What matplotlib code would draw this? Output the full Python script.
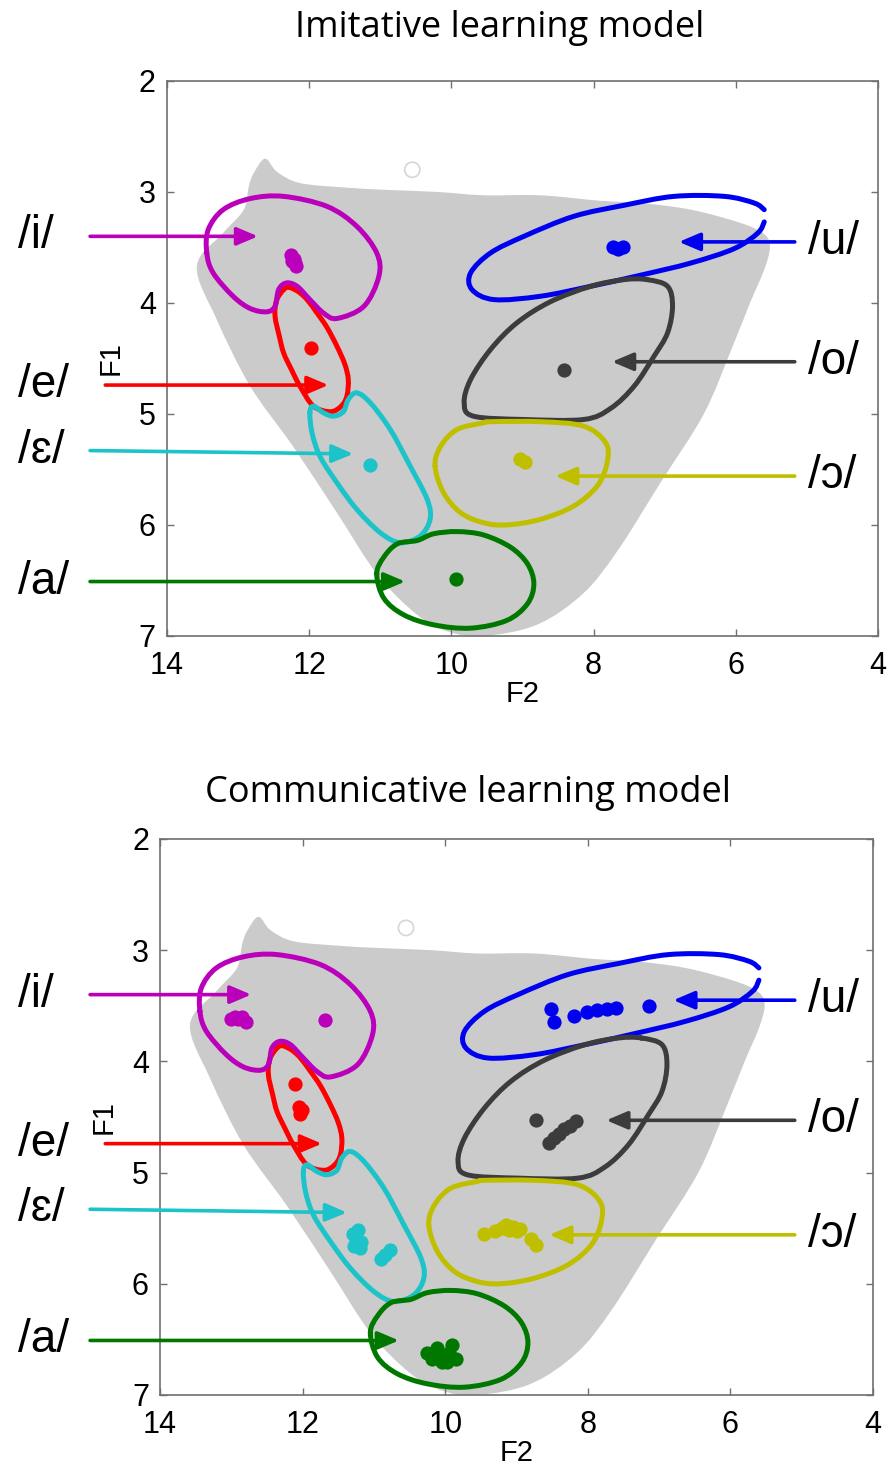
import numpy as np
import matplotlib.pyplot as plt
from matplotlib.path import Path
from matplotlib.patches import PathPatch
from matplotlib.transforms import blended_transform_factory

plt.rcParams['font.family'] = ['Liberation Sans', 'DejaVu Sans']

# 母音空間（灰色の領域）の輪郭 F2, F1
space_f2 = [12.62, 12.45, 12.13, 11.50, 10.96, 10.20, 9.55, 8.75, 7.90, 7.34, 6.63, 5.93, 5.60,
            5.52, 5.60, 5.80, 6.05, 6.45, 7.06, 7.66, 8.15, 8.80, 9.55, 10.05, 10.50, 11.05,
            11.61, 12.23, 12.83, 13.30, 13.58, 13.21, 12.92, 12.85, 12.78]
space_f1 = [2.70, 2.82, 2.92, 2.96, 2.98, 3.00, 3.03, 3.03, 3.08, 3.10, 3.16, 3.28, 3.38,
            3.50, 3.70, 4.00, 4.40, 5.00, 5.62, 6.23, 6.62, 6.90, 7.00, 6.96, 6.80, 6.44,
            5.89, 5.29, 4.75, 4.15, 3.67, 3.37, 3.16, 2.95, 2.83]
outlier_f2 = [10.55]
outlier_f1 = [2.80]

# 各母音のカテゴリ境界
cont_i = ([13.44, 13.42, 13.21, 12.83, 12.36, 11.75, 11.33, 11.05, 11.02, 11.23, 11.61, 11.80,
           11.99, 12.17, 12.32, 12.43, 12.48, 12.60, 12.83, 13.07, 13.35],
          [3.55, 3.34, 3.16, 3.06, 3.04, 3.13, 3.31, 3.55, 3.76, 4.03, 4.14, 4.09,
           3.97, 3.85, 3.82, 3.88, 4.03, 4.08, 4.05, 3.94, 3.73])
cont_e = ([12.36, 12.46, 12.48, 12.42, 12.36, 12.25, 12.13, 11.94, 11.70, 11.55, 11.47, 11.45,
           11.50, 11.61, 11.75, 11.89, 12.03, 12.15, 12.28],
          [3.88, 3.98, 4.12, 4.30, 4.45, 4.60, 4.75, 4.93, 4.98, 4.93, 4.84, 4.69,
           4.55, 4.39, 4.22, 4.09, 3.97, 3.90, 3.86])
cont_eps = ([11.99, 11.94, 11.80, 11.66, 11.52, 11.45, 11.33, 11.14, 10.86, 10.58, 10.34, 10.30,
             10.44, 10.72, 11.00, 11.33, 11.61, 11.85, 11.96],
            [4.99, 4.93, 4.99, 5.02, 4.98, 4.87, 4.81, 4.90, 5.14, 5.47, 5.77, 5.95,
             6.10, 6.16, 6.07, 5.86, 5.62, 5.38, 5.17])
cont_a = ([11.05, 10.95, 10.76, 10.48, 10.25, 9.92, 9.55, 9.17, 8.93, 8.84, 8.93, 9.22,
           9.73, 10.25, 10.67, 10.95],
          [6.44, 6.29, 6.17, 6.14, 6.08, 6.06, 6.09, 6.20, 6.35, 6.53, 6.71, 6.86,
           6.93, 6.90, 6.81, 6.66])
cont_u = ([5.60, 5.74, 6.16, 6.87, 7.57, 8.28, 8.98, 9.45, 9.73, 9.71, 9.40, 8.75,
           8.04, 7.34, 6.63, 6.02, 5.69, 5.60],
          [3.16, 3.10, 3.04, 3.04, 3.12, 3.22, 3.40, 3.55, 3.73, 3.88, 3.97, 3.94,
           3.85, 3.75, 3.64, 3.51, 3.37, 3.27])
cont_o = ([7.25, 6.96, 6.89, 6.96, 7.15, 7.43, 7.76, 8.14, 8.98, 9.69, 9.82, 9.73,
           9.45, 9.08, 8.61, 8.04, 7.57],
          [3.79, 3.85, 4.03, 4.27, 4.48, 4.75, 4.95, 5.05, 5.05, 5.02, 4.90, 4.69,
           4.42, 4.18, 3.99, 3.85, 3.79])
cont_oo = ([10.23, 10.15, 9.92, 9.55, 9.45, 8.75, 8.14, 7.83, 7.81, 7.95, 8.28, 8.75,
            9.22, 9.55, 9.87, 10.11],
           [5.47, 5.29, 5.14, 5.08, 5.07, 5.07, 5.11, 5.26, 5.44, 5.65, 5.83, 5.95,
            6.00, 5.98, 5.89, 5.71])

# 模倣学習モデルの結果
imit_i = ([12.25, 12.22, 12.20, 12.18, 12.24], [3.57, 3.60, 3.64, 3.67, 3.62])
imit_e = ([11.97], [4.41])
imit_eps = ([11.14], [5.46])
imit_a = ([9.94], [6.49])
imit_u = ([7.73, 7.65, 7.58], [3.50, 3.51, 3.50])
imit_o = ([8.42], [4.60])
imit_oo = ([9.04, 8.96], [5.41, 5.43])

# コミュニケーション学習モデルの結果
comm_i = ([12.95, 12.85, 12.80, 12.90, 13.00, 11.68], [3.60, 3.60, 3.65, 3.62, 3.62, 3.63])
comm_e = ([12.10, 12.05, 12.01, 12.04], [4.20, 4.41, 4.44, 4.47])
comm_eps = ([11.30, 11.22, 11.25, 11.18, 11.28, 11.20, 10.90, 10.78, 10.85],
            [5.55, 5.52, 5.60, 5.62, 5.66, 5.68, 5.78, 5.70, 5.74])
comm_a = ([10.25, 10.18, 10.10, 10.05, 9.95, 9.90, 9.98, 9.85, 10.12],
          [6.62, 6.68, 6.65, 6.70, 6.62, 6.55, 6.70, 6.68, 6.58])
comm_u = ([8.52, 8.48, 8.19, 8.01, 7.87, 7.73, 7.61, 7.14],
          [3.53, 3.65, 3.59, 3.56, 3.54, 3.53, 3.52, 3.50])
comm_o = ([8.73, 8.55, 8.47, 8.40, 8.33, 8.25, 8.17],
          [4.53, 4.73, 4.69, 4.65, 4.61, 4.58, 4.54])
comm_oo = ([9.45, 9.30, 9.20, 9.15, 9.10, 9.05, 9.00, 8.95, 8.80, 8.72],
           [5.55, 5.53, 5.50, 5.47, 5.52, 5.49, 5.53, 5.51, 5.60, 5.65])

labels = ['/i/', '/e/', '/ɛ/', '/a/', '/u/', '/o/', '/ɔ/']
colors = ['#bb00bb', '#ff0000', '#1cc3c8', '#007800', '#0000f0', '#3c3c3c', '#bfbf00']
contours = [cont_e, cont_i, cont_eps, cont_a, cont_u, cont_o, cont_oo]
cont_colors = [colors[1], colors[0], colors[2], colors[3], colors[4], colors[5], colors[6]]
closed = [True, True, True, True, False, True, True]

# 矢印: 先端(F2, F1), 尾の位置(図の横位置)
arrow_tip_f2 = [12.72, 11.73, 11.38, 10.65, 6.80, 7.74, 8.54]
arrow_tip_f1 = [3.40, 4.74, 5.36, 6.51, 3.45, 4.53, 5.56]
arrow_tail_f1 = [3.40, 4.74, 5.33, 6.51, 3.45, 4.53, 5.56]
arrow_tail_x = [0.101, 0.118, 0.101, 0.101, 0.891, 0.891, 0.891]
label_x = [0.020, 0.020, 0.020, 0.020, 0.906, 0.906, 0.906]


def smooth_path(xs, ys, is_closed):
    # 点を通る滑らかな曲線（ベジェ）にする
    p = np.column_stack([xs, ys])
    n = len(p)
    verts = [p[0]]
    codes = [Path.MOVETO]
    nseg = n if is_closed else n - 1
    for k in range(nseg):
        p1 = p[k]
        p2 = p[(k + 1) % n]
        p0 = p[(k - 1) % n] if (is_closed or k > 0) else p1
        p3 = p[(k + 2) % n] if (is_closed or k + 2 < n) else p2
        verts += [p1 + (p2 - p0) / 6, p2 - (p3 - p1) / 6, p2]
        codes += [Path.CURVE4] * 3
    return Path(verts, codes)


fig = plt.figure(figsize=(8.92, 14.69), dpi=100)
ax1 = fig.add_axes([0.1872, 0.5671, 0.7971, 0.3778])
ax2 = fig.add_axes([0.1794, 0.0504, 0.7993, 0.3785])

panels = [(ax1, [imit_i, imit_e, imit_eps, imit_a, imit_u, imit_o, imit_oo]),
          (ax2, [comm_i, comm_e, comm_eps, comm_a, comm_u, comm_o, comm_oo])]

for ax, dots in panels:
    ax.add_patch(PathPatch(smooth_path(space_f2, space_f1, True), facecolor='#cbcbcb',
                           edgecolor='none', zorder=1))
    ax.scatter(outlier_f2, outlier_f1, s=120, facecolors='none', edgecolors='#d6d6d6', lw=1.2, zorder=1)

    for c, col, cl in zip(contours, cont_colors, closed):
        ax.add_patch(PathPatch(smooth_path(c[0], c[1], cl), fill=False, edgecolor=col, lw=3.6,
                               capstyle='round', joinstyle='round', zorder=2))

    for d, col in zip(dots, colors):
        ax.scatter(d[0], d[1], s=105, color=col, lw=0, zorder=3)

    tr = blended_transform_factory(fig.transFigure, ax.transData)
    for k in range(len(labels)):
        ax.annotate('', xy=(arrow_tip_f2[k], arrow_tip_f1[k]), xycoords='data',
                    xytext=(arrow_tail_x[k], arrow_tail_f1[k]), textcoords=tr,
                    arrowprops=dict(arrowstyle='-|>,head_length=0.8,head_width=0.34',
                                    color=colors[k], lw=2.6, shrinkA=0, shrinkB=0,
                                    mutation_scale=16),
                    annotation_clip=False, zorder=4)
        ax.text(label_x[k], arrow_tail_f1[k], labels[k], transform=tr, fontsize=33,
                ha='left', va='center', clip_on=False)

    ax.set_xlim(14, 4)
    ax.set_ylim(7, 2)
    ax.set_xticks([14, 12, 10, 8, 6, 4])
    ax.set_yticks([2, 3, 4, 5, 6, 7])
    ax.tick_params(direction='in', top=True, right=True, length=5, width=1,
                   color='#707070', labelsize=22, pad=8)
    ax.tick_params(axis='x', pad=11)
    for sp in ax.spines.values():
        sp.set_color('#707070')
        sp.set_linewidth(1.2)
    ax.set_xlabel('F2', fontsize=21, labelpad=-1)
    ax.set_ylabel('F1', fontsize=21, labelpad=10)

fig.text(0.5605, 1 - 37 / 1469, 'Imitative learning model', fontsize=26, family='Open Sans',
         ha='center', va='baseline')
fig.text(0.5247, 1 - 802 / 1469, 'Communicative learning model', fontsize=26, family='Open Sans',
         ha='center', va='baseline')

fig.savefig('out.png', dpi=100)
